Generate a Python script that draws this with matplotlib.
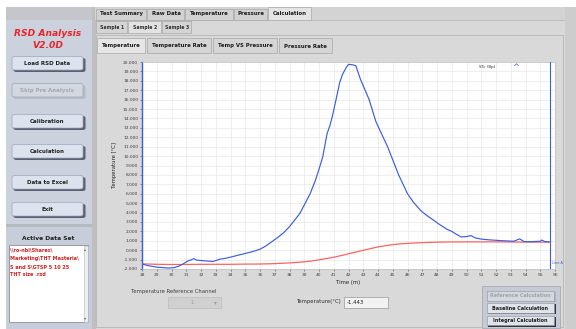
import matplotlib
matplotlib.use("Agg")
import matplotlib.pyplot as plt
from matplotlib.patches import Rectangle, FancyBboxPatch

# ---- measured temperature trace (Sample 2) ----
time_sample = [28.0, 28.3, 28.6, 29.0, 29.4, 29.8, 30.2, 30.5, 30.8, 31.1, 31.3, 31.5,
               31.7, 32.0, 32.4, 32.8, 33.0, 33.3, 33.7, 34.1, 34.6, 35.0, 35.5, 36.0,
               36.4, 36.8, 37.2, 37.6, 38.0, 38.4, 38.7, 39.0, 39.4, 39.75, 40.0, 40.25,
               40.55, 40.75, 40.9, 41.1, 41.4, 41.6, 41.8, 42.0, 42.3, 42.5, 42.8, 43.1,
               43.4, 43.85, 44.2, 44.65, 45.0, 45.4, 45.7, 46.0, 46.4, 46.9, 47.3, 47.8,
               48.2, 48.7, 49.0, 49.3, 49.65, 50.0, 50.3, 50.6, 51.0, 51.5, 52.0, 52.5,
               52.8, 53.2, 53.6, 53.9, 54.2, 54.6, 55.0, 55.1, 55.3, 55.6]
temp_sample = [-1.45, -1.6, -1.7, -1.8, -1.85, -1.9, -1.85, -1.7, -1.45, -1.15, -1.05, -0.9,
               -1.05, -1.1, -1.15, -1.2, -1.1, -0.95, -0.85, -0.7, -0.5, -0.35, -0.15, 0.1,
               0.45, 0.9, 1.35, 1.85, 2.5, 3.3, 3.9, 4.8, 6.0, 7.4, 8.6, 9.9,
               12.4, 13.3, 14.2, 15.6, 17.8, 18.7, 19.3, 19.75, 19.7, 19.6, 18.2, 17.1,
               16.0, 13.7, 12.5, 11.0, 9.6, 8.0, 7.0, 6.0, 5.1, 4.2, 3.7, 3.15,
               2.7, 2.2, 2.0, 1.7, 1.4, 1.45, 1.55, 1.3, 1.18, 1.1, 1.05, 1.0,
               0.98, 0.95, 1.2, 0.92, 0.9, 0.92, 0.95, 1.08, 0.92, 0.88]

# ---- reference channel trace ----
time_ref = [28.0, 29.0, 30.0, 31.0, 32.0, 33.0, 34.0, 35.0, 36.0, 37.0, 38.0, 38.7,
            39.5, 40.3, 41.0, 41.7, 42.5, 43.3, 44.0, 44.8, 45.5, 46.5, 47.5, 48.5,
            50.0, 52.0, 54.0, 55.6]
temp_ref = [-1.45, -1.5, -1.52, -1.52, -1.5, -1.5, -1.5, -1.48, -1.47, -1.43, -1.35, -1.28,
            -1.15, -0.95, -0.75, -0.5, -0.2, 0.1, 0.35, 0.55, 0.67, 0.77, 0.83, 0.87,
            0.88, 0.88, 0.86, 0.85]

x_ticks = list(range(28, 57))
y_ticks = list(range(-2, 21))
cursor_time = 55.65
current_temp = "-1.443"

menu_buttons = ["Load RSD Data", "Skip Pre Analysis", "Calibration",
                "Calculation", "Data to Excel", "Exit"]
main_tabs = ["Test Summary", "Raw Data", "Temperature", "Pressure", "Calculation"]
sample_tabs = ["Sample 1", "Sample 2", "Sample 3"]
plot_tabs = ["Temperature", "Temperature Rate", "Temp VS Pressure", "Pressure Rate"]
data_path = ["\\\\ro-nbi\\Shares\\", "Marketing\\THT Masteria\\",
             "S and S\\GTSP 5 10 25", "THT size .rsd"]
calc_buttons = ["Reference Calculation", "Baseline Calculation", "Integral Calculation"]

W, H = 576, 329
fig = plt.figure(figsize=(W / 100, H / 100), dpi=100)
fig.patch.set_facecolor("white")


def rect(x, y, w, h, **kw):
    fig.patches.append(Rectangle((x / W, 1 - (y + h) / H), w / W, h / H,
                                 transform=fig.transFigure, **kw))


def rbox(x, y, w, h, pad=2.0, **kw):
    fig.patches.append(FancyBboxPatch((x / W, 1 - (y + h) / H), w / W, h / H,
                                      boxstyle=f"round,pad=0,rounding_size={pad / W}",
                                      transform=fig.transFigure, **kw))


def txt(x, y, s, **kw):
    kw.setdefault("ha", "center")
    kw.setdefault("va", "center")
    fig.text(x / W, 1 - y / H, s, **kw)


# ---- left control panel ----
rect(6, 7, 87, 220, facecolor="#cbd2de", edgecolor="none")
rect(6, 7, 87, 13, facecolor="#c4c6cb", edgecolor="none")
rect(6, 226, 87, 103, facecolor="#c7ceda", edgecolor="none")
rect(6, 224, 87, 3, facecolor="#b5b9c0", edgecolor="none")
txt(48, 33, "RSD Analysis", color="#e8262a", fontsize=6.6, style="italic", weight="bold")
txt(48, 46, "V2.0D", color="#e8262a", fontsize=6.6, style="italic", weight="bold")

btn_y = [64, 91, 122, 152, 183, 210]
for label, yc in zip(menu_buttons, btn_y):
    grey = label == "Skip Pre Analysis"
    rbox(13.5, yc - 6, 72, 14, pad=3, facecolor="#5a6070" if not grey else "#b8bdc6",
         edgecolor="none")
    rbox(12, yc - 7.5, 71, 13.5, pad=3,
         facecolor="#dde3ee" if not grey else "#d3d8e0",
         edgecolor="#9ea6b4", linewidth=0.5)
    txt(47.5, yc - 0.5, label, fontsize=4.0, weight="bold",
        color="#202020" if not grey else "#a4a8ae")

txt(48, 239, "Active Data Set", fontsize=4.3, weight="bold", color="#202020")
rect(9, 245, 79, 77, facecolor="white", edgecolor="#8a8f98", linewidth=0.6)
rect(83.5, 245.5, 4.3, 76, facecolor="#eceef2", edgecolor="#b0b4bb", linewidth=0.4)
txt(85.6, 249, "\u25B4", fontsize=3.2, color="#707070")
txt(85.6, 318, "\u25BE", fontsize=3.2, color="#707070")
for i, line in enumerate(data_path):
    txt(10.5, 250 + i * 8.3, line, ha="left", fontsize=3.5, weight="bold", color="#d42020")

# ---- main tab area ----
rect(92, 7, 484, 322, facecolor="#d3d3d3", edgecolor="none")
rect(92, 7, 3, 322, facecolor="#bfbfbf", edgecolor="none")
rect(95, 20, 470, 309, facecolor="#d8d8d8", edgecolor="#b4b4b4", linewidth=0.5)
rect(565, 7, 11, 322, facecolor="#cdcdcd", edgecolor="none")

tab_edges = [96, 147, 185, 234, 268, 312]
for i, label in enumerate(main_tabs):
    sel = label == "Calculation"
    x0, x1 = tab_edges[i], tab_edges[i + 1]
    rect(x0, 7.5 if sel else 8.5, x1 - x0 - 1, 12.5 if sel else 11.5,
         facecolor="#e4e4e4" if sel else "#d2d2d2", edgecolor="#a8a8a8", linewidth=0.5)
    txt((x0 + x1) / 2, 13.5, label, fontsize=3.9, weight="bold", color="#1e1e1e")

sample_edges = [96, 128, 162, 192]
for i, label in enumerate(sample_tabs):
    sel = label == "Sample 2"
    x0, x1 = sample_edges[i], sample_edges[i + 1]
    rect(x0, 21, x1 - x0 - 1, 12, facecolor="#e2e2e2" if sel else "#d4d4d4",
         edgecolor="#a8a8a8", linewidth=0.5)
    txt((x0 + x1) / 2, 27, label, fontsize=3.3, weight="bold", color="#303030")

rect(96, 35, 467, 292, facecolor="#d9d9d9", edgecolor="#b0b0b0", linewidth=0.5)
plot_edges = [96, 146, 212, 278, 333]
for i, label in enumerate(plot_tabs):
    sel = label == "Temperature"
    x0, x1 = plot_edges[i], plot_edges[i + 1]
    rect(x0 + 1, 38, x1 - x0 - 2, 15, facecolor="#e6e6e6" if sel else "#d5d5d5",
         edgecolor="#a8a8a8", linewidth=0.5)
    txt((x0 + x1) / 2, 46, label, fontsize=3.9, weight="bold", color="#1e1e1e")

# ---- graph ----
ax = fig.add_axes([142 / W, 1 - 269 / H, (555 - 142) / W, (269 - 62) / H])
ax.set_zorder(10)
ax.set_facecolor("white")
ax.plot(time_ref, temp_ref, color="#ff6262", linewidth=0.9, zorder=3)
ax.plot(time_sample, temp_sample, color="#3a5ee0", linewidth=0.85, zorder=4)
ax.axvline(cursor_time, color="#3a5ee0", linewidth=0.8, zorder=5)
ax.set_xlim(28, 56)
ax.set_ylim(-2, 20)
ax.set_xticks(x_ticks)
ax.set_yticks(y_ticks)
ax.set_xticklabels([str(v) for v in x_ticks])
ax.set_yticklabels([f"{v:.3f}" for v in y_ticks])
ax.tick_params(labelsize=3.2, length=1.5, width=0.4, pad=1.2, colors="#404040")
ax.grid(True, color="#e8e8e8", linewidth=0.5)
ax.set_axisbelow(True)
for side in ["top", "right", "bottom"]:
    ax.spines[side].set_color("#c0c0c0")
    ax.spines[side].set_linewidth(0.5)
ax.spines["left"].set_color("#3a5ee0")
ax.spines["left"].set_linewidth(1.0)
ax.set_xlabel("Time (m)", fontsize=3.8, labelpad=2, color="#202020")
ax.set_ylabel("Temperature [\u00b0C]", fontsize=3.8, labelpad=4, color="#202020")
ax.text(0.835, 0.975, "STc (Bp)", transform=ax.transAxes, fontsize=2.9,
        ha="center", va="center", color="#303030")
ax.text(0.905, 0.975, "^", transform=ax.transAxes, fontsize=6, ha="center",
        va="center", color="#3a5ee0")
ax.text(cursor_time + 0.15, -1.4, "Line A", fontsize=2.5, color="#3a5ee0",
        ha="left", va="center")

# ---- controls under the graph ----
txt(131, 292, "Temperature Reference Channel", ha="left", fontsize=3.8, color="#404040")
rect(168, 297, 53, 11, facecolor="#d0d0d0", edgecolor="#bcbcbc", linewidth=0.5)
txt(192, 302.5, "1", fontsize=3.6, color="#9a9a9a")
txt(215, 302.5, "\u25BE", fontsize=4, color="#9a9a9a")
txt(341, 302, "Temperature(\u00b0C)", ha="right", fontsize=3.9, color="#303030")
rect(344, 296.5, 44, 11, facecolor="#f2f2f2", edgecolor="#9a9a9a", linewidth=0.5)
txt(346.5, 302, current_temp, ha="left", fontsize=3.9, color="#202020")

rect(482, 286, 78, 42, facecolor="#c5cad4", edgecolor="#a6abb4", linewidth=0.6)
for i, label in enumerate(calc_buttons):
    grey = i == 0
    yc = 296 + i * 12.3
    rect(487.5, yc - 4, 68, 10, facecolor="#30343c" if not grey else "#b0b4bb",
         edgecolor="none")
    rect(486.5, yc - 5, 67, 9.5, facecolor="#dfe3ea" if not grey else "#d3d7de",
         edgecolor="#8e939c", linewidth=0.4)
    txt(520, yc - 0.3, label, fontsize=3.5, weight="bold",
        color="#202020" if not grey else "#a0a4aa")

fig.savefig("out.png", dpi=100, facecolor=fig.get_facecolor())
